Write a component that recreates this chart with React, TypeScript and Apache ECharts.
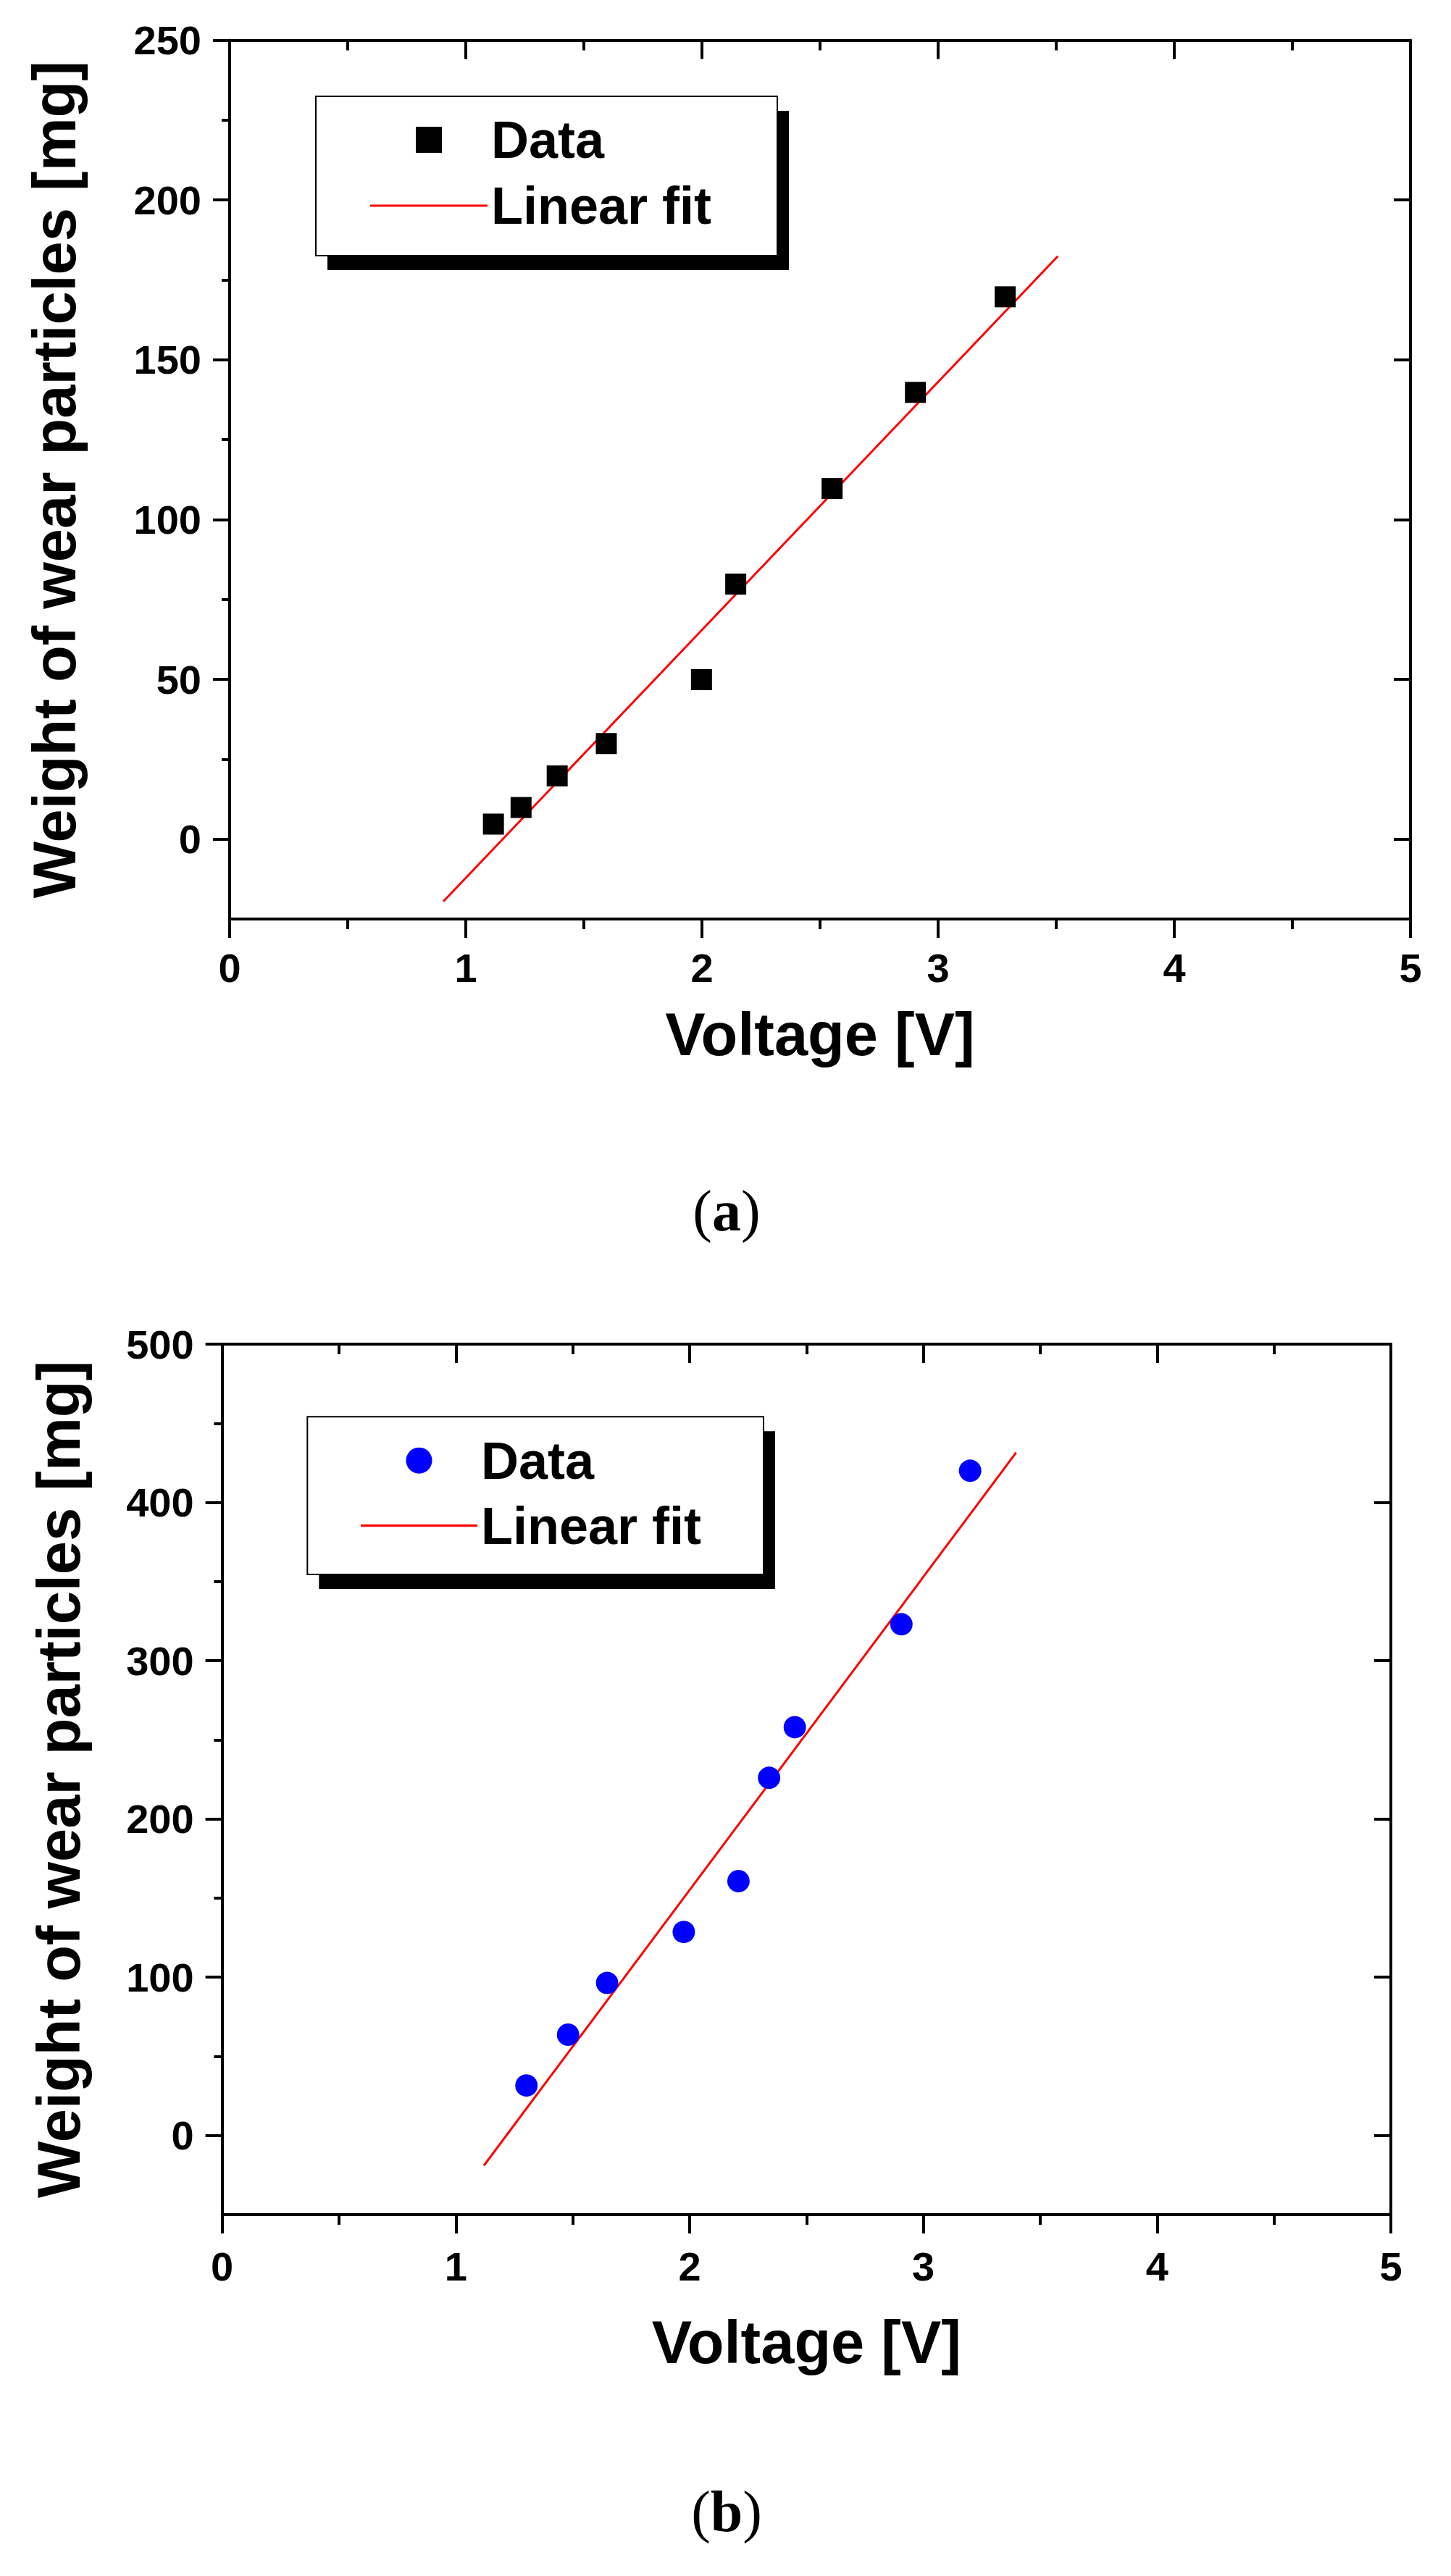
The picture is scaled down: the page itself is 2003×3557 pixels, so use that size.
import { useEffect, useRef } from 'react';
import * as echarts from 'echarts';

// panel (a): black squares
const aVoltage = [1.117, 1.234, 1.387, 1.595, 1.998, 2.143, 2.551, 2.904, 3.284];
const aWeight = [4.7, 9.9, 19.8, 29.9, 49.9, 79.8, 109.7, 139.8, 169.7];
const aFitVoltage = [0.905, 3.507];
const aFitWeight = [-19.5, 182.4];
const aYTicks = [0, 50, 100, 150, 200, 250];
const aYMinor = [25, 75, 125, 175, 225];

// panel (b): blue circles
const bVoltage = [1.302, 1.48, 1.647, 1.975, 2.209, 2.34, 2.45, 2.906, 3.2];
const bWeight = [31.6, 63.7, 96.4, 128.6, 160.7, 226, 258, 323, 420];
const bFitVoltage = [1.12, 3.397];
const bFitWeight = [-19, 431.5];
const bYTicks = [0, 100, 200, 300, 400, 500];
const bYMinor = [50, 150, 250, 350, 450];

const xLabels = ['0', '1', '2', '3', '4', '5'];

const SANS = '"Liberation Sans", Arial, sans-serif';
const SERIF = '"Liberation Serif", "Times New Roman", serif';

interface PanelProps {
  tag: string;
  height: number;
  xs: number[];
  ys: number[];
  fitXs: number[];
  fitYs: number[];
  yMin: number;
  yMax: number;
  yTicks: number[];
  yMinor: number[];
  symbol: string;
  symbolSize: number;
  color: string;
  legendIcon: string;
  grid: { left: number; top: number; width: number; height: number };
  xLabelMargin: number;
  xNameGap: number;
  yNameGap: number;
  legend: { left: number; top: number; itemWidth: number; itemGap: number; textGap: number };
  box: { x: number; y: number; width: number; height: number };
  tagPos: { x: number; y: number };
}

const tickStyle = { color: '#000', width: 4 };

function buildOption(p: PanelProps): echarts.EChartsOption {
  const axisLine = { show: true, onZero: false, lineStyle: { color: '#000', width: 4 } };
  const labelStyle = { fontSize: 56, fontWeight: 'bold' as const, fontFamily: SANS, color: '#000' };
  const nameStyle = { fontSize: 83, fontWeight: 'bold' as const, fontFamily: SANS, color: '#000' };
  const yBase = { type: 'value' as const, min: p.yMin, max: p.yMax, splitLine: { show: false } };
  const xBase = { type: 'value' as const, min: 0, max: 5, interval: 1, splitLine: { show: false } };

  return {
    animation: false,
    backgroundColor: '#fff',
    grid: { ...p.grid, containLabel: false },
    xAxis: [
      {
        ...xBase,
        position: 'bottom',
        axisLine,
        axisTick: { show: true, length: 26, lineStyle: tickStyle },
        minorTick: { show: true, splitNumber: 2, length: 14, lineStyle: tickStyle },
        axisLabel: { ...labelStyle, margin: p.xLabelMargin, formatter: (v: number) => xLabels[Math.round(v)] ?? '' },
        name: 'Voltage [V]',
        nameLocation: 'middle',
        nameGap: p.xNameGap,
        nameTextStyle: nameStyle,
      },
      {
        ...xBase,
        position: 'top',
        axisLine,
        axisTick: { show: true, inside: true, length: 26, lineStyle: tickStyle },
        minorTick: { show: true, splitNumber: 2, length: 14, lineStyle: tickStyle },
        axisLabel: { show: false },
      },
    ],
    yAxis: [
      {
        ...yBase,
        position: 'left',
        axisLine,
        axisTick: { show: true, length: 23, lineStyle: tickStyle, customValues: p.yTicks },
        axisLabel: { ...labelStyle, margin: 39, customValues: p.yTicks },
        name: 'Weight of wear particles [mg]',
        nameLocation: 'middle',
        nameRotate: 90,
        nameGap: p.yNameGap,
        nameTextStyle: nameStyle,
      },
      {
        ...yBase,
        position: 'left',
        axisLine: { show: false },
        axisTick: { show: true, length: 11, lineStyle: tickStyle, customValues: p.yMinor },
        axisLabel: { show: false },
      },
      {
        ...yBase,
        position: 'right',
        axisLine,
        axisTick: { show: true, inside: true, length: 23, lineStyle: tickStyle, customValues: p.yTicks },
        axisLabel: { show: false },
      },
      {
        ...yBase,
        position: 'right',
        axisLine: { show: false },
        axisTick: { show: true, inside: true, length: 11, lineStyle: tickStyle, customValues: p.yMinor },
        axisLabel: { show: false },
      },
    ],
    legend: {
      orient: 'vertical',
      left: p.legend.left,
      top: p.legend.top,
      padding: 0,
      itemWidth: p.legend.itemWidth,
      itemHeight: 36,
      itemGap: p.legend.itemGap,
      itemTextGap: p.legend.textGap,
      selectedMode: false,
      textStyle: { fontSize: 72, fontWeight: 'bold', fontFamily: SANS, color: '#000' },
      data: [
        { name: 'Data', icon: p.legendIcon },
        // a thin red bar: the fit line sample
        { name: 'Linear fit', icon: 'path://M0 0H100V2H0Z', itemStyle: { color: '#ff0000' } },
      ],
      z: 5,
    },
    graphic: [
      {
        type: 'rect',
        z: 3,
        shape: { x: p.box.x + 16, y: p.box.y + 20, width: p.box.width, height: p.box.height },
        style: { fill: '#000' },
      },
      {
        type: 'rect',
        z: 4,
        shape: { ...p.box },
        style: { fill: '#fff', stroke: '#000', lineWidth: 2 },
      },
      {
        type: 'text',
        x: p.tagPos.x,
        y: p.tagPos.y,
        style: {
          text: `{p|(}{b|${p.tag}}{p|)}`,
          align: 'center',
          verticalAlign: 'middle',
          rich: {
            p: { fontSize: 80, fontFamily: SERIF, fill: '#000' },
            b: { fontSize: 80, fontFamily: SERIF, fontWeight: 'bold', fill: '#000' },
          },
        },
      },
    ],
    series: [
      {
        name: 'Data',
        type: 'scatter',
        xAxisIndex: 0,
        yAxisIndex: 0,
        symbol: p.symbol,
        symbolSize: p.symbolSize,
        itemStyle: { color: p.color, opacity: 1 },
        data: p.xs.map((x, i) => [x, p.ys[i]]),
        z: 3,
      },
      {
        name: 'Linear fit',
        type: 'line',
        xAxisIndex: 0,
        yAxisIndex: 0,
        symbol: 'none',
        showSymbol: false,
        lineStyle: { color: '#ff0000', width: 3 },
        itemStyle: { color: '#ff0000' },
        data: p.fitXs.map((x, i) => [x, p.fitYs[i]]),
        z: 2,
      },
    ],
  };
}

function Panel(props: PanelProps) {
  const chartRef = useRef<HTMLDivElement>(null);

  useEffect(() => {
    if (!chartRef.current) return;
    const chart = echarts.init(chartRef.current, null, { renderer: 'svg' });
    chart.setOption(buildOption(props));
    return () => chart.dispose();
  }, [props]);

  return <div ref={chartRef} style={{ width: 2003, height: props.height }} />;
}

const panelA: PanelProps = {
  tag: 'a',
  height: 1778,
  xs: aVoltage,
  ys: aWeight,
  fitXs: aFitVoltage,
  fitYs: aFitWeight,
  yMin: -25,
  yMax: 250,
  yTicks: aYTicks,
  yMinor: aYMinor,
  symbol: 'rect',
  symbolSize: 29,
  color: '#000000',
  legendIcon: 'path://M0 0H10V10H0Z',
  grid: { left: 317, top: 55.5, width: 1630, height: 1213.5 },
  xLabelMargin: 39,
  xNameGap: 118,
  yNameGap: 200,
  legend: { left: 511, top: 157, itemWidth: 162, itemGap: 19, textGap: 23 },
  box: { x: 436, y: 133, width: 637, height: 220 },
  tagPos: { x: 1003, y: 1672 },
};

const panelB: PanelProps = {
  tag: 'b',
  height: 1779,
  xs: bVoltage,
  ys: bWeight,
  fitXs: bFitVoltage,
  fitYs: bFitWeight,
  yMin: -50,
  yMax: 500,
  yTicks: bYTicks,
  yMinor: bYMinor,
  symbol: 'circle',
  symbolSize: 31,
  color: '#0000ff',
  legendIcon: 'circle',
  grid: { left: 306.6, top: 78, width: 1613.4, height: 1202 },
  xLabelMargin: 43,
  xNameGap: 135,
  yNameGap: 184,
  legend: { left: 498, top: 202.7, itemWidth: 161, itemGap: 18, textGap: 21 },
  box: { x: 424.3, y: 178.3, width: 629.7, height: 217.7 },
  tagPos: { x: 1003, y: 1690 },
};

export default function App() {
  return (
    <div style={{ position: 'absolute', left: 0, top: 0, width: 2003, background: '#fff' }}>
      <Panel {...panelA} />
      <Panel {...panelB} />
    </div>
  );
}
